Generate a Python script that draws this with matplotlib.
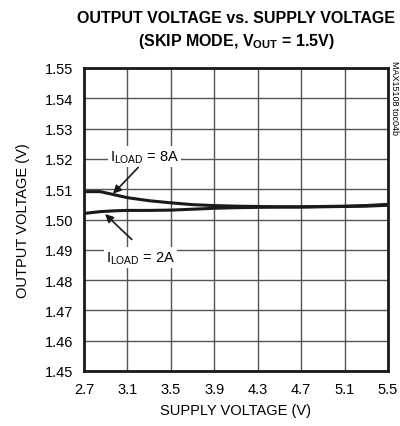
import matplotlib
matplotlib.use('Agg')
import matplotlib.pyplot as plt
from matplotlib import font_manager

# fuente estrecha tipo hoja de datos
fams = [f.name for f in font_manager.fontManager.ttflist]
fam = 'Liberation Sans Narrow' if 'Liberation Sans Narrow' in fams else 'Liberation Sans'
plt.rcParams['font.family'] = [fam, 'DejaVu Sans']

# Datos
vin = [2.7, 2.85, 3.0, 3.1, 3.3, 3.5, 3.7, 3.9, 4.1, 4.3, 4.5, 4.7, 4.9, 5.1, 5.3, 5.5]
vout_8a = [1.5092, 1.5092, 1.5080, 1.5072, 1.5062, 1.5055, 1.5049, 1.5046, 1.5044, 1.5043, 1.5042, 1.5042, 1.5043, 1.5044, 1.5046, 1.5050]
vout_2a = [1.5020, 1.5026, 1.5029, 1.5030, 1.5030, 1.5031, 1.5034, 1.5037, 1.5039, 1.5040, 1.5041, 1.5041, 1.5042, 1.5043, 1.5044, 1.5047]

xticks = [2.7, 3.1, 3.5, 3.9, 4.3, 4.7, 5.1, 5.5]
yticks = [1.45, 1.46, 1.47, 1.48, 1.49, 1.50, 1.51, 1.52, 1.53, 1.54, 1.55]

fig = plt.figure(figsize=(4.0, 4.27), dpi=100)
ax = fig.add_axes([84/400, 1 - 372/427, 304/400, 303/427])

ax.plot(vin, vout_8a, color='#1a1a1a', lw=2.2)
ax.plot(vin, vout_2a, color='#1a1a1a', lw=2.2)

ax.set_xlim(2.7, 5.5)
ax.set_ylim(1.45, 1.55)
ax.set_xticks(xticks)
ax.set_yticks(yticks)
ax.set_xticklabels([f'{v:.1f}' for v in xticks], fontsize=10.5)
ax.set_yticklabels([f'{v:.2f}' for v in yticks], fontsize=10.5)
ax.tick_params(length=0, pad=8)
ax.grid(True, color='#555555', lw=1.0)
for s in ax.spines.values():
    s.set_linewidth(2.0)
    s.set_color('#1a1a1a')

ax.set_xlabel('SUPPLY VOLTAGE (V)', fontsize=10.5, labelpad=5)
ax.set_ylabel('OUTPUT VOLTAGE (V)', fontsize=10.5, labelpad=10)

fig.text(0.59, 0.957, 'OUTPUT VOLTAGE vs. SUPPLY VOLTAGE', ha='center', va='center',
         fontsize=11.5, fontweight='bold')
fig.text(0.59, 0.902, '(SKIP MODE, V$_{\\mathregular{OUT}}$ = 1.5V)', ha='center', va='center',
         fontsize=11.5, fontweight='bold')
fig.text(0.985, 0.77, 'MAX15108 toc04b', rotation=270, ha='center', va='center', fontsize=6.5)

# etiquetas de corriente con fondo blanco
bbox = dict(boxstyle='square,pad=0.15', fc='white', ec='none')
ax.text(2.94, 1.5208, 'I$_{\\mathregular{LOAD}}$ = 8A', fontsize=10.5, ha='left', va='center', bbox=bbox)
ax.text(2.90, 1.4875, 'I$_{\\mathregular{LOAD}}$ = 2A', fontsize=10.5, ha='left', va='center', bbox=bbox)

arrow = dict(arrowstyle='-|>', color='#1a1a1a', lw=1.2, mutation_scale=12, shrinkA=0, shrinkB=0)
ax.annotate('', xy=(2.967, 1.5085), xytext=(3.20, 1.5172), arrowprops=arrow)
ax.annotate('', xy=(2.894, 1.5018), xytext=(3.14, 1.4934), arrowprops=arrow)

fig.savefig('out.png', dpi=100)
